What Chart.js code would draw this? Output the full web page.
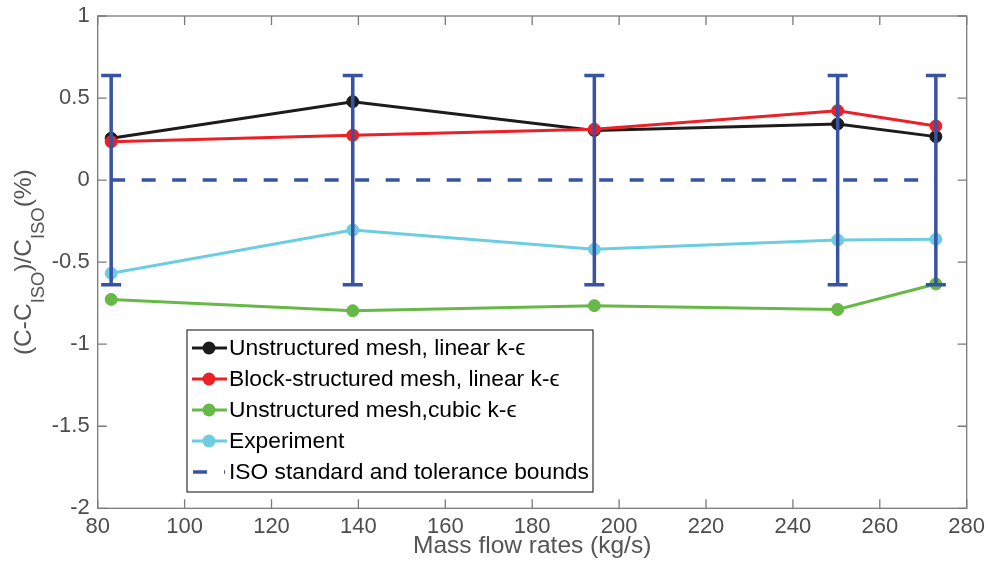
<!DOCTYPE html>
<html>
<head>
<meta charset="utf-8">
<script src="https://cdn.jsdelivr.net/npm/chart.js@4.4.1/dist/chart.umd.min.js"></script>
<style>
  html, body { margin: 0; padding: 0; background: #fff; }
</style>
</head>
<body>
<canvas id="myChart" width="987" height="563"></canvas>
<script>
// mass flow rates (kg/s) and deviation from the ISO discharge coefficient (%)
const flowRates = [83.1, 138.7, 194.3, 250.3, 272.9];
const unstructuredLinear = [0.255, 0.478, 0.302, 0.342, 0.265];
const blockLinear = [0.234, 0.273, 0.310, 0.423, 0.330];
const unstructuredCubic = [-0.727, -0.796, -0.765, -0.788, -0.633];
const experiment = [-0.568, -0.304, -0.422, -0.365, -0.360];
const isoStandard = [0, 0, 0, 0, 0];
const isoTolerance = [0.637, 0.637, 0.637, 0.637, 0.637];

const xTicks = [80, 100, 120, 140, 160, 180, 200, 220, 240, 260, 280];
const yTicks = [-2, -1.5, -1, -0.5, 0, 0.5, 1];

const FONT = "'Liberation Sans', Helvetica, Arial, sans-serif";
const AXIS_GRAY = '#7a7a7a';
const TEXT_GRAY = '#4d4d4d';
const ISO_BLUE = '#3953a4';

function pts(ys) {
    return flowRates.map((x, i) => ({ x: x, y: ys[i] }));
}

function series(label, ys, color, order) {
    return {
        label: label,
        data: pts(ys),
        borderColor: color,
        backgroundColor: color,
        borderWidth: 3,
        pointRadius: 6,
        pointBorderWidth: 1,
        pointBackgroundColor: color,
        pointBorderColor: color,
        order: order,
    };
}

// MATLAB-style box with inward ticks
const axesBox = {
    id: 'axesBox',
    beforeDatasetsDraw(chart) {
        const { ctx, chartArea: a, scales } = chart;
        const len = 9;
        ctx.save();
        ctx.strokeStyle = AXIS_GRAY;
        ctx.lineWidth = 1.3;
        ctx.strokeRect(a.left, a.top, a.right - a.left, a.bottom - a.top);
        ctx.beginPath();
        xTicks.forEach(v => {
            const px = scales.x.getPixelForValue(v);
            ctx.moveTo(px, a.bottom); ctx.lineTo(px, a.bottom - len);
            ctx.moveTo(px, a.top); ctx.lineTo(px, a.top + len);
        });
        yTicks.forEach(v => {
            const py = scales.y.getPixelForValue(v);
            ctx.moveTo(a.left, py); ctx.lineTo(a.left + len, py);
            ctx.moveTo(a.right, py); ctx.lineTo(a.right - len, py);
        });
        ctx.stroke();
        ctx.restore();
    }
};

// tolerance bounds drawn as error bars around the ISO line
const isoBars = {
    id: 'isoBars',
    afterDatasetsDraw(chart) {
        const { ctx, scales } = chart;
        const cap = 10;
        ctx.save();
        ctx.strokeStyle = ISO_BLUE;
        ctx.lineWidth = 3.5;
        ctx.beginPath();
        flowRates.forEach((x, i) => {
            const px = scales.x.getPixelForValue(x);
            const top = scales.y.getPixelForValue(isoStandard[i] + isoTolerance[i]);
            const bot = scales.y.getPixelForValue(isoStandard[i] - isoTolerance[i]);
            ctx.moveTo(px, top); ctx.lineTo(px, bot);
            ctx.moveTo(px - cap, top); ctx.lineTo(px + cap, top);
            ctx.moveTo(px - cap, bot); ctx.lineTo(px + cap, bot);
        });
        ctx.stroke();
        ctx.restore();
    }
};

// y title with subscripts, and the boxed legend inside the axes
const annotations = {
    id: 'annotations',
    afterDraw(chart) {
        const { ctx, chartArea: a } = chart;
        ctx.save();

        const main = 24.5, sub = 18.4;
        const parts = [
            ['(C-C', false], ['ISO', true], [')/C', false], ['ISO', true], ['(%)', false]
        ];
        let total = 0;
        parts.forEach(p => {
            ctx.font = (p[1] ? sub : main) + 'px ' + FONT;
            total += ctx.measureText(p[0]).width;
        });
        ctx.translate(31, (a.top + a.bottom) / 2);
        ctx.rotate(-Math.PI / 2);
        ctx.fillStyle = '#555';
        ctx.textBaseline = 'alphabetic';
        let x = -total / 2;
        parts.forEach(p => {
            ctx.font = (p[1] ? sub : main) + 'px ' + FONT;
            ctx.fillText(p[0], x, p[1] ? 12.5 : 0);
            x += ctx.measureText(p[0]).width;
        });
        ctx.setTransform(1, 0, 0, 1, 0, 0);

        // legend
        const box = { left: 187, top: 330, width: 406, height: 162 };
        ctx.fillStyle = '#fff';
        ctx.fillRect(box.left, box.top, box.width, box.height);
        ctx.strokeStyle = '#333';
        ctx.lineWidth = 1.2;
        ctx.strokeRect(box.left, box.top, box.width, box.height);
        ctx.font = '22.8px ' + FONT;
        ctx.textBaseline = 'middle';
        chart.data.datasets.forEach((ds, row) => {
            const cy = 348 + row * 31;
            ctx.strokeStyle = ds.borderColor;
            ctx.lineWidth = ds.borderWidth;
            ctx.beginPath();
            if (ds.borderDash) {
                ctx.setLineDash([14, 17]);
                ctx.moveTo(193, cy); ctx.lineTo(225, cy);
            } else {
                ctx.moveTo(192, cy); ctx.lineTo(227, cy);
            }
            ctx.stroke();
            ctx.setLineDash([]);
            if (ds.pointRadius > 0) {
                ctx.fillStyle = ds.borderColor;
                ctx.beginPath();
                ctx.arc(209, cy, 6.5, 0, Math.PI * 2);
                ctx.fill();
            }
            ctx.fillStyle = '#000';
            ctx.fillText(ds.label, 229, cy + 1);
        });
        ctx.restore();
    }
};

const ctx = document.getElementById('myChart').getContext('2d');
new Chart(ctx, {
    type: 'line',
    data: {
        datasets: [
            series('Unstructured mesh, linear k-\u03f5', unstructuredLinear, '#1c1c1c', 1),
            series('Block-structured mesh, linear k-\u03f5', blockLinear, '#ec2027', 0),
            series('Unstructured mesh,cubic k-\u03f5', unstructuredCubic, '#67b947', 2),
            series('Experiment', experiment, '#6ccde0', 3),
            {
                label: 'ISO standard and tolerance bounds',
                data: pts(isoStandard),
                borderColor: ISO_BLUE,
                borderWidth: 3.5,
                borderDash: [14, 16.5],
                pointRadius: 0,
                order: 4,
            },
        ]
    },
    options: {
        responsive: false,
        animation: false,
        devicePixelRatio: 1,
        events: [],
        layout: { padding: { top: 16, right: 20.3, left: 0, bottom: 0 } },
        plugins: {
            legend: { display: false },
            tooltip: { enabled: false },
        },
        scales: {
            x: {
                type: 'linear',
                min: 80,
                max: 280,
                afterBuildTicks: scale => { scale.ticks = xTicks.map(v => ({ value: v })); },
                afterFit: scale => {
                    scale.height = 54.7;
                    scale.paddingLeft = 0;
                    scale.paddingRight = 0;
                },
                grid: { display: false, drawTicks: false },
                border: { display: false },
                ticks: {
                    padding: 5,
                    color: TEXT_GRAY,
                    font: { family: FONT, size: 22 },
                    maxRotation: 0,
                    callback: v => String(v),
                },
                title: {
                    display: true,
                    text: 'Mass flow rates (kg/s)',
                    color: '#555',
                    font: { family: FONT, size: 24.5 },
                    padding: { top: 0, bottom: 2 },
                },
            },
            y: {
                min: -2,
                max: 1,
                afterBuildTicks: scale => { scale.ticks = yTicks.map(v => ({ value: v })); },
                afterFit: scale => {
                    scale.width = 97.7;
                    scale.paddingTop = 0;
                    scale.paddingBottom = 0;
                },
                grid: { display: false, drawTicks: false },
                border: { display: false },
                ticks: {
                    padding: 8,
                    color: TEXT_GRAY,
                    font: { family: FONT, size: 22 },
                    callback: v => String(v),
                },
            },
        },
    },
    plugins: [axesBox, isoBars, annotations],
});
</script>
</body>
</html>
